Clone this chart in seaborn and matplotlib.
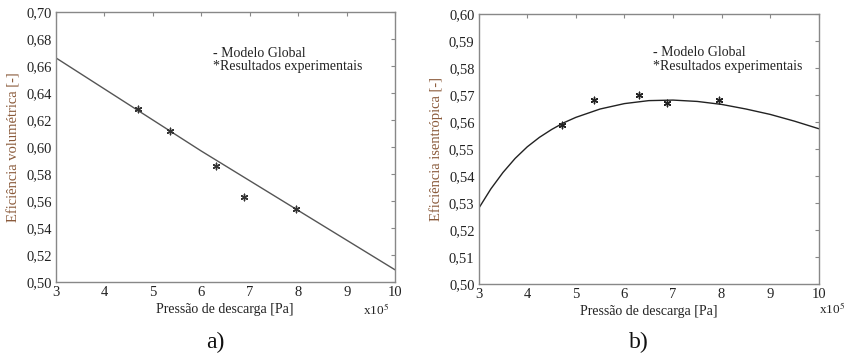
import matplotlib
matplotlib.use("Agg")
import matplotlib.pyplot as plt
import seaborn as sns

sns.set_theme(style="white")
plt.rcParams['font.family'] = ['Liberation Serif', 'DejaVu Serif']
plt.rcParams['mathtext.fontset'] = 'stix'

# ---- data ----
x_model = [3, 4, 5, 6, 7, 8, 9, 10]
vol_model = [0.666, 0.643, 0.620, 0.597, 0.575, 0.553, 0.531, 0.509]
x_exp = [4.70, 5.35, 6.30, 6.88, 7.95]
vol_exp = [0.628, 0.612, 0.586, 0.563, 0.554]

x_model_b = [3.0, 3.25, 3.5, 3.75, 4.0, 4.25, 4.5, 4.75, 5.0, 5.5, 6.0, 6.5, 7.0, 7.5, 8.0, 8.5, 9.0, 9.5, 10.0]
ise_model = [0.528, 0.5352, 0.5413, 0.5465, 0.5508, 0.5543, 0.5572, 0.5597, 0.5617, 0.5648, 0.5668, 0.5679, 0.5681, 0.5676, 0.5665, 0.5648, 0.5628, 0.5603, 0.5575]
x_exp_b = [4.72, 5.37, 6.30, 6.87, 7.95]
ise_exp = [0.559, 0.568, 0.570, 0.567, 0.568]

xticks = [3, 4, 5, 6, 7, 8, 9, 10]
yticks_a = [0.50, 0.52, 0.54, 0.56, 0.58, 0.60, 0.62, 0.64, 0.66, 0.68, 0.70]
yticks_b = [0.50, 0.51, 0.52, 0.53, 0.54, 0.55, 0.56, 0.57, 0.58, 0.59, 0.60]
ylab_a = ["0,50", "0,52", "0,54", "0,56", "0,58", "0,60", "0,62", "0,64", "0,66", "0,68", "0,70"]
ylab_b = ["0,50", "0,51", "0,52", "0,53", "0,54", "0,55", "0,56", "0,57", "0,58", "0,59", "0,60"]
xlab = ["3", "4", "5", "6", "7", "8", "9", "10"]

fig = plt.figure(figsize=(8.48, 3.53), dpi=100)
ax1 = fig.add_axes([0.066, 0.201, 0.400, 0.765])
ax2 = fig.add_axes([0.5645, 0.1955, 0.401, 0.765])

label_color = "#8a5a3a"
spine_color = "#888888"

def style(ax, yt, yl, ylim, ylabel):
    ax.set_xlim(3, 10)
    ax.set_ylim(*ylim)
    ax.set_xticks(xticks)
    ax.set_xticklabels(xlab)
    ax.set_yticks(yt)
    ax.set_yticklabels(yl)
    ax.tick_params(direction='in', length=3, width=0.8, color=spine_color,
                   labelsize=10.5, pad=3, top=True, right=True,
                   labelcolor='#222222')
    for s in ax.spines.values():
        s.set_color(spine_color)
        s.set_linewidth(1.0)
    ax.set_xlabel("")
    ax.set_ylabel(ylabel, color=label_color, fontsize=10.5, labelpad=4)

ast = (6, 2, 0)

# a)
sns.lineplot(x=x_model, y=vol_model, ax=ax1, color="#555555", linewidth=1.0)
sns.scatterplot(x=x_exp, y=vol_exp, ax=ax1, marker=ast, s=22, color="#333333",
                linewidth=1.0, zorder=3)
style(ax1, yticks_a, ylab_a, (0.50, 0.70), "Eficiência volumétrica [-]")
ax1.text(0.463, 0.848, "- Modelo Global", transform=ax1.transAxes, fontsize=10, va='center', color='#222222')
ax1.text(0.463, 0.800, "*Resultados experimentais", transform=ax1.transAxes, fontsize=10, va='center', color='#222222')

# b)
sns.lineplot(x=x_model_b, y=ise_model, ax=ax2, color="#222222", linewidth=1.0)
sns.scatterplot(x=x_exp_b, y=ise_exp, ax=ax2, marker=ast, s=22, color="#222222",
                linewidth=1.0, zorder=3)
style(ax2, yticks_b, ylab_b, (0.50, 0.60), "Eficiência isentrópica [-]")
ax2.text(0.513, 0.859, "- Modelo Global", transform=ax2.transAxes, fontsize=10, va='center', color='#222222')
ax2.text(0.513, 0.807, "*Resultados experimentais", transform=ax2.transAxes, fontsize=10, va='center', color='#222222')

# x labels and multipliers
fig.text(225/848, 1 - 309/353, "Pressão de descarga [Pa]", ha='center', va='center', fontsize=10, color='#222222')
fig.text(649/848, 1 - 312/353, "Pressão de descarga [Pa]", ha='center', va='center', fontsize=10, color='#222222')
fig.text(363/848, 1 - 310/353, "x10$^5$", ha='left', va='center', fontsize=9.5, color='#222222')
fig.text(819/848, 1 - 309/353, "x10$^5$", ha='left', va='center', fontsize=9.5, color='#222222')
fig.text(215/848, 1 - 342/353, "a)", ha='center', va='center', fontsize=17, color='#111111')
fig.text(639/848, 1 - 342/353, "b)", ha='center', va='center', fontsize=17, color='#111111')

fig.savefig("out.png", dpi=100, facecolor='white')
